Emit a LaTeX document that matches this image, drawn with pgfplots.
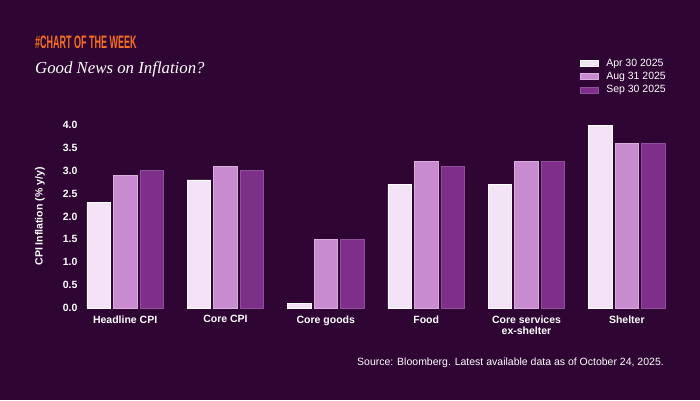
\documentclass[border=0pt]{standalone}
\usepackage{fontspec}
\setmainfont{Liberation Sans}
\newfontfamily\titleserif{Liberation Serif}
\usepackage{graphicx}
\usepackage{pgfplots}
\pgfplotsset{compat=1.18}
\definecolor{bg}{RGB}{46,5,51}
\definecolor{barlight}{RGB}{244,226,246}
\definecolor{barmid}{RGB}{200,139,207}
\definecolor{bardark}{RGB}{126,47,138}
\definecolor{hashorange}{RGB}{245,110,35}

\begin{document}
\begin{tikzpicture}[x=1pt,y=1pt]
\fill[bg] (0,0) rectangle (700,400);
\useasboundingbox (0,0) rectangle (700,400);

\node[anchor=base west, inner sep=0, text=hashorange, font=\bfseries\fontsize{18}{18}\selectfont]
  at (35,352) {\scalebox{0.5}[1]{\#CHART OF THE WEEK}};
\node[anchor=base west, inner sep=0, text=white, font=\titleserif\itshape\fontsize{16.8}{18}\selectfont]
  at (35,327) {Good News on Inflation?};
\node[anchor=base east, inner sep=0, text=white, font=\fontsize{10.5}{12}\selectfont]
  at (664,35) {Source: Bloomberg. Latest available data as of October 24, 2025.};

\begin{axis}[
    at={(80pt,92pt)}, anchor=south west,
    scale only axis,
    width=592pt, height=183pt,
    ybar=3pt, bar width=23.5pt,
    xmin=-0.45, xmax=5.45,
    ymin=0, ymax=4,
    axis lines=left,
    axis line style={draw=none},
    major tick length=0pt,
    xtick=data,
    xticklabels={Headline CPI, Core CPI, Core goods, Food, {Core services\\ex-shelter}, Shelter},
    xticklabel style={text=white, font=\bfseries\fontsize{10.5}{11}\selectfont, align=center, yshift=-4pt},
    ytick={0,0.5,...,4},
    yticklabel style={text=white, font=\bfseries\fontsize{10.5}{11}\selectfont, xshift=1pt},
    /pgf/number format/assume math mode=true,
    /pgf/number format/.cd, fixed, fixed zerofill, precision=1, /pgfplots/.cd,
    ylabel={CPI Inflation (\% y/y)},
    ylabel style={at={(axis description cs:-0.0676,0.5)}, anchor=center, text=white, font=\bfseries\fontsize{10.5}{11}\selectfont},
    legend style={at={(axis description cs:0.845,1.373)}, anchor=north west, draw=none, fill=none,
        text=white, font=\fontsize{10.5}{13.5}\selectfont, row sep=0.5pt, inner sep=0pt,
        /tikz/every odd column/.append style={column sep=5pt}},
    legend cell align=left,
    legend image code/.code={\draw[#1] (0pt,-3pt) rectangle (18pt,3pt);},
]
\addplot[fill=barlight, draw=white, line width=0.8pt] coordinates {
    (0,2.3) (1,2.8) (2,0.1) (3,2.7) (4,2.7) (5,4.0)};
\addplot[fill=barmid, draw=barmid!70!white, line width=0.8pt] coordinates {
    (0,2.9) (1,3.1) (2,1.5) (3,3.2) (4,3.2) (5,3.6)};
\addplot[fill=bardark, draw=bardark!85!white, line width=0.8pt] coordinates {
    (0,3.0) (1,3.0) (2,1.5) (3,3.1) (4,3.2) (5,3.6)};
\legend{Apr 30 2025, Aug 31 2025, Sep 30 2025}
\end{axis}
\end{tikzpicture}
\end{document}
